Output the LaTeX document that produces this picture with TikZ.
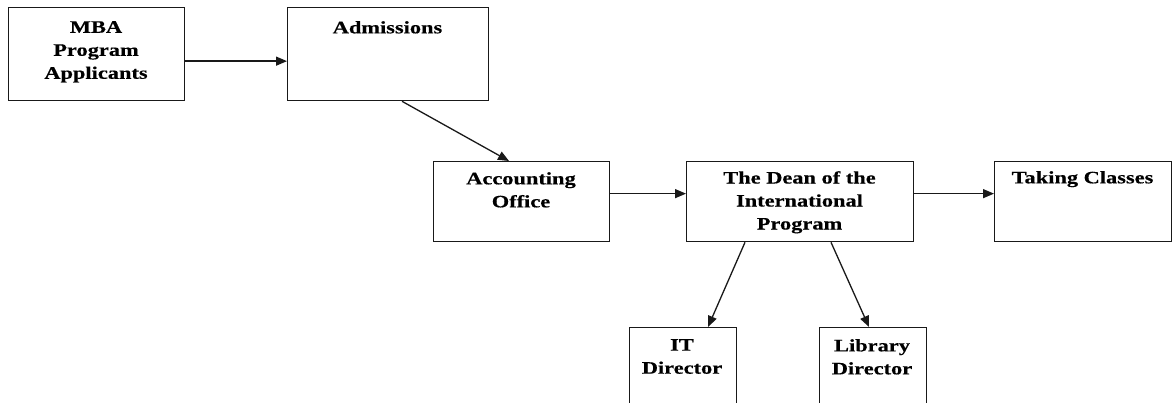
\documentclass[tikz,border=0pt]{standalone}
\usepackage{fontspec}
\setmainfont{Liberation Serif}[FakeStretch=1.28,BoldFeatures={FakeBold=0.4}]
\usetikzlibrary{arrows.meta}
\begin{document}
\begin{tikzpicture}[x=1pt,y=-1pt,
  box/.style={draw=black!90,line width=1.3pt,anchor=north west,inner sep=0pt},
  txt/.style={font=\bfseries\fontsize{17.5}{23}\selectfont,align=center,inner sep=0pt,anchor=north,text=black},
  arr/.style={draw=black!90,line width=1.3pt,-{Triangle[length=11pt,width=9pt]}}]
\useasboundingbox (0,0) rectangle (1172,403);
\clip (0,0) rectangle (1172,403);
% boxes
\node[box,minimum width=176pt,minimum height=93pt] (mba) at (8,7) {};
\node[box,minimum width=201pt,minimum height=93pt] (adm) at (287,7) {};
\node[box,minimum width=176pt,minimum height=80pt] (acc) at (433,161) {};
\node[box,minimum width=227pt,minimum height=80pt] (dean) at (686,161) {};
\node[box,minimum width=177pt,minimum height=80pt] (take) at (994,161) {};
\node[box,minimum width=107pt,minimum height=90pt] (it) at (629,327) {};
\node[box,minimum width=107pt,minimum height=90pt] (lib) at (819,327) {};
% texts
\node[txt] (tmba) at (96,21) {MBA\\Program\\Applicants};
\node[txt] (tadm) at (387.5,21) {Admissions};
\node[txt] (tacc) at (521,172) {Accounting\\Office};
\node[txt] (tdean) at (799.5,171) {The Dean of the\\International\\Program};
\node[txt] (ttake) at (1082.5,171) {Taking Classes};
\node[txt] (tit) at (682,339) {IT\\Director};
\node[txt] (tlib) at (872,339) {Library\\Director};
% connectors
\draw[arr] ([yshift=-7pt]mba.east) -- ([yshift=-7pt]adm.west);
\draw[arr] ([xshift=115pt]adm.south west) -- ([xshift=76pt]acc.north west);
\draw[arr] ([yshift=8pt]acc.east) -- ([yshift=8pt]acc.east -| dean.west);
\draw[arr] ([yshift=8pt]dean.east) -- ([yshift=8pt]dean.east -| take.west);
\draw[arr] ([xshift=59pt]dean.south west) -- ([xshift=79pt]it.north west);
\draw[arr] ([xshift=145pt]dean.south west) -- ([xshift=50pt]lib.north west);
\end{tikzpicture}
\end{document}
